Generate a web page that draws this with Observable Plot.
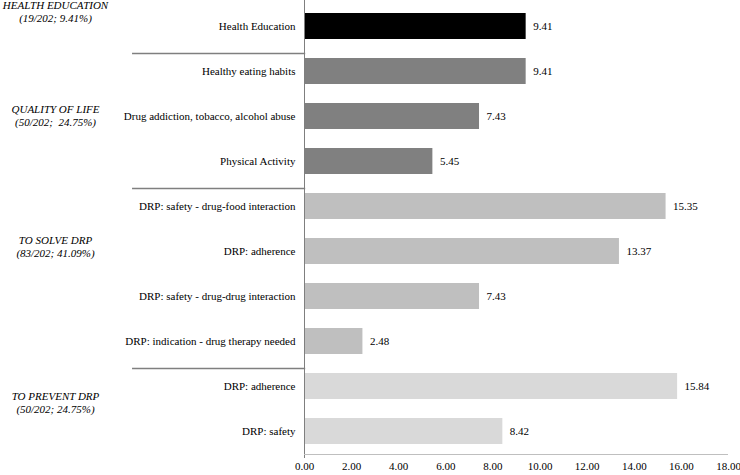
<!DOCTYPE html>
<html>
<head>
<meta charset="utf-8">
<script src="https://cdn.jsdelivr.net/npm/d3@7"></script>
<script src="https://cdn.jsdelivr.net/npm/@observablehq/plot@0.6"></script>
<style>
  html, body { margin: 0; padding: 0; background: #fff; }
</style>
</head>
<body>
<div id="chart"></div>
<script>
const categories = [
  "Health Education",
  "Healthy eating habits",
  "Drug addiction, tobacco, alcohol abuse",
  "Physical Activity",
  "DRP: safety - drug-food interaction",
  "DRP: adherence",
  "DRP: safety - drug-drug interaction",
  "DRP: indication - drug therapy needed",
  "DRP: adherence",
  "DRP: safety"
];
const values = [9.41, 9.41, 7.43, 5.45, 15.35, 13.37, 7.43, 2.48, 15.84, 8.42];
const groupOfRow = [0, 1, 1, 1, 2, 2, 2, 2, 3, 3];
const groupNames = ["HEALTH EDUCATION", "QUALITY OF LIFE", "TO SOLVE DRP", "TO PREVENT DRP"];
const groupCounts = ["(19/202; 9.41%)", "(50/202;  24.75%)", "(83/202; 41.09%)", "(50/202; 24.75%)"];
const groupColors = ["#000000", "#808080", "#bfbfbf", "#d9d9d9"];
const xTicks = [0, 2, 4, 6, 8, 10, 12, 14, 16, 18];

const rows = categories.map((c, i) => ({i, label: c, value: values[i], group: groupNames[groupOfRow[i]]}));

// group label placement: anchor row + vertical offset
const groupLabelRow = [0, 2, 5, 8];
const groupLabelDy = [-15, -1, -5, 16];
const groupLabels = groupNames.map((g, k) => ({row: groupLabelRow[k], text: g + "\n" + groupCounts[k], dy: groupLabelDy[k]}));

// separators sit above the first row of each group after the first
const separatorRows = [1, 4, 8];
const sepLeft = -7.3; // extends into the label area

const font = "'Liberation Serif', 'Times New Roman', serif";

const chart = Plot.plot({
  width: 740,
  height: 475,
  marginLeft: 304,
  marginRight: 12,
  marginTop: 0,
  marginBottom: 17,
  style: {fontFamily: font, fontSize: "11px", background: "#fff", color: "#000", overflow: "visible"},
  x: {domain: [0, 18], ticks: xTicks, tickFormat: d => d.toFixed(2), tickSize: 0, tickPadding: 4, label: null},
  y: {domain: d3.range(categories.length), paddingInner: 0.42, paddingOuter: 0.21, tickSize: 0, tickPadding: 9, tickFormat: i => categories[i], label: null},
  color: {domain: groupNames, range: groupColors},
  marks: [
    Plot.barX(rows, {x: "value", y: "i", fill: "group"}),
    Plot.text(rows, {x: "value", y: "i", text: d => d.value.toFixed(2), textAnchor: "start", dx: 7, fill: "#000"}),
    Plot.ruleX([0], {stroke: "#7f7f7f", strokeWidth: 1}),
    Plot.ruleY([categories.length - 1], {y: d => d, x1: 0, x2: 18, dy: 23, stroke: "#bfbfbf", strokeWidth: 1}),
    Plot.ruleY(separatorRows, {y: d => d, x1: sepLeft, x2: 0.05, dy: -18, stroke: "#7f7f7f", strokeWidth: 1.3}),
    ...groupLabels.map(g => Plot.text([g], {
      y: d => d.row, text: d => d.text, frameAnchor: "left", dx: -249, dy: g.dy,
      textAnchor: "middle", lineAnchor: "middle", lineHeight: 1.12, fontStyle: "italic", fill: "#000"
    }))
  ]
});
document.getElementById("chart").appendChild(chart);
</script>
</body>
</html>
